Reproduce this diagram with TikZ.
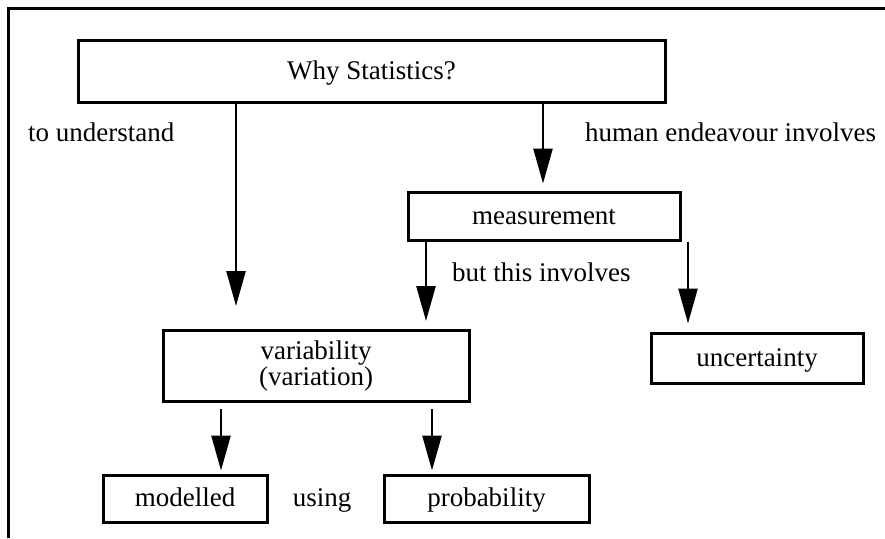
\documentclass[tikz,border=0pt]{standalone}
\usepackage{fontspec}
\setmainfont{Liberation Serif}
\usetikzlibrary{arrows.meta}
\begin{document}
\begin{tikzpicture}[x=1pt,y=-1pt,
  txt/.style={font=\fontsize{27}{26}\selectfont},
  strut/.style={text height=21pt,text depth=5pt},
  box/.style={draw,line width=3pt,inner sep=0pt,align=center,txt},
  lbl/.style={inner sep=0pt,anchor=west,txt},
  arr/.style={line width=2.6pt,-{Triangle[length=35pt,width=19pt]}}]
\useasboundingbox (0,0) rectangle (885,538);
% open frame: left and top edges only
\draw[line width=3pt] (8,538) -- (8,8) -- (885,8);

% boxes
\node[box,strut,minimum width=587pt,minimum height=62pt] (why)  at (371.5,71)   {Why Statistics?};
\node[box,strut,minimum width=272pt,minimum height=48pt] (meas) at (544,216)    {measurement};
\node[box,minimum width=306pt,minimum height=71pt]       (var)  at (316,366)    {variability\\(variation)};
\node[box,strut,minimum width=212pt,minimum height=50pt] (unc)  at (757,358)    {uncertainty};
\node[box,strut,minimum width=164pt,minimum height=47pt] (mod)  at (185,498.5)  {modelled};
\node[box,strut,minimum width=205pt,minimum height=47pt] (prob) at (486.5,498.5){probability};

% labels
\node[lbl] (l1) at (28,132)  {to understand};
\node[lbl] (l2) at (585,132) {human endeavour involves};
\node[lbl] (l3) at (452,272) {but this involves};
\node[txt,strut,inner sep=0pt] (l4) at (322,498.5) {using};

% connector columns
\coordinate (c1) at (236,0);
\coordinate (c2) at (543,0);
\coordinate (c3) at (426,0);
\coordinate (c4) at (688,0);
\coordinate (c5) at (221,0);
\coordinate (c6) at (432,0);

\draw[arr,shorten >=23pt] (why.south -| c1) -- (var.north -| c1);
\draw[arr,shorten >=7pt]  (why.south -| c2) -- (meas.north -| c2);
\draw[arr,shorten >=8pt]  (meas.south -| c3) -- (var.north -| c3);
\draw[arr,shorten >=8pt]  (meas.south -| c4) -- (unc.north -| c4);
\draw[arr,shorten <=6pt,shorten >=3pt] (var.south -| c5) -- (mod.north -| c5);
\draw[arr,shorten <=6pt,shorten >=3pt] (var.south -| c6) -- (prob.north -| c6);
\end{tikzpicture}
\end{document}
